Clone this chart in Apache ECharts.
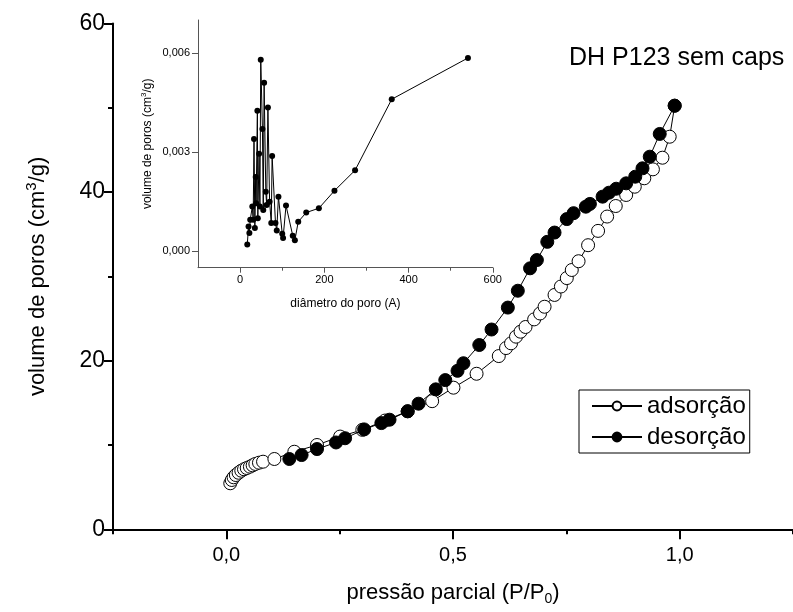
<!DOCTYPE html>
<html>
<head>
<meta charset="utf-8">
<script src="https://cdn.jsdelivr.net/npm/echarts@6/dist/echarts.min.js"></script>
<style>html,body{margin:0;padding:0;background:#fff}#c{width:793px;height:612px}</style>
</head>
<body>
<div id="c"></div>
<script>
// ---- main isotherm data ----
var adsP = [0.0087,0.012,0.016,0.021,0.027,0.033,0.039,0.045,0.052,0.058,0.064,0.072,0.081,0.106,0.15,0.2,0.251,0.30,0.35,0.40,0.454,0.501,0.552,0.601,0.617,0.628,0.639,0.649,0.66,0.679,0.692,0.702,0.724,0.738,0.751,0.762,0.777,0.798,0.82,0.84,0.859,0.882,0.901,0.922,0.941,0.962,0.978,0.989];
var adsV = [5.46,5.85,6.17,6.44,6.71,6.95,7.12,7.27,7.43,7.59,7.75,7.9,8.02,8.34,9.2,10.0,11.0,11.8,12.9,14.0,15.2,16.8,18.45,20.55,21.5,22.06,22.85,23.44,24.0,24.9,25.6,26.4,27.8,28.8,29.8,30.76,31.8,33.7,35.4,37.1,38.35,39.66,40.64,41.64,42.7,44.08,46.57,50.25];
var desP = [0.989,0.956,0.934,0.918,0.902,0.882,0.86,0.844,0.83,0.802,0.793,0.766,0.751,0.724,0.708,0.685,0.67,0.643,0.621,0.585,0.558,0.523,0.51,0.483,0.462,0.424,0.40,0.36,0.342,0.304,0.262,0.242,0.2,0.166,0.139];
var desV = [50.25,46.9,44.2,42.82,41.83,41.04,40.4,39.93,39.46,38.6,38.27,37.5,36.8,35.2,34.1,31.94,30.96,28.3,26.3,23.7,21.86,19.7,18.8,17.7,16.6,14.9,14.0,13.0,12.6,11.85,10.8,10.3,9.52,8.81,8.34];
// ---- inset pore distribution data ----
var poreD = [17,20,22,24,29,31,33,35,37,38,41,42,45,47,49,53,55,57,61,63,66,70,74,76,84,87,91,100,102,109,125,130,138,157,187,224,273,360,541];
var poreV = [0.0002,0.00075,0.00055,0.00095,0.00135,0.00095,0.0034,0.0007,0.00225,0.00145,0.00425,0.001,0.00295,0.00135,0.0058,0.0037,0.00125,0.0051,0.0018,0.0014,0.00435,0.0015,0.00085,0.00288,0.00085,0.00063,0.00165,0.00053,0.0004,0.00138,0.00047,0.00033,0.00089,0.00117,0.0013,0.00183,0.00245,0.0046,0.00585];
// ---- ticks ----
var mainXMajor = [0,0.5,1.0];
var mainXMinor = [-0.25,0.25,0.75,1.25];
var insetXMajor = [0,200,400,600];
var insetXMinor = [100,300,500];
var insetYMajor = [0,0.003,0.006];

function zip(a,b){var r=[];for(var i=0;i<a.length;i++)r.push([a[i],b[i]]);return r;}
var FF = "'Liberation Sans', Arial, sans-serif";
var chart = echarts.init(document.getElementById('c'), null, {renderer:'canvas'});
var option = {
  animation:false,
  backgroundColor:'#fff',
  textStyle:{fontFamily:FF,color:'#000'},
  title:{text:'DH P123 sem caps',left:569,top:46,padding:0,textStyle:{fontFamily:FF,fontWeight:'normal',fontSize:25,color:'#000'}},
  legend:{
    data:['adsorção','desorção'],orient:'vertical',left:579,top:390,
    backgroundColor:'#fff',borderColor:'#000',borderWidth:1,borderRadius:0,
    padding:[3,4,3,12],itemGap:5,itemWidth:50,itemHeight:11,
    textStyle:{fontFamily:FF,fontSize:24,color:'#000',lineHeight:26}
  },
  grid:[
    {left:113,top:23.5,right:-10,bottom:82.7,containLabel:false},
    {left:198,top:20,right:300.2,bottom:344.3,containLabel:false}
  ],
  xAxis:[
    {type:'value',gridIndex:0,min:-0.25,max:1.25,position:'bottom',
     axisLine:{show:true,onZero:false,lineStyle:{color:'#000',width:2}},
     axisTick:{show:true,customValues:mainXMajor,length:10,lineStyle:{color:'#000',width:2}},
     axisLabel:{show:true,customValues:mainXMajor,margin:16,fontSize:20,fontFamily:FF,color:'#000',formatter:function(v){return v.toFixed(1).replace('.',',');}},
     splitLine:{show:false},
     name:'{a|pressão parcial (P/P}{sub|0}{a|)}',nameLocation:'middle',nameGap:51,
     nameTextStyle:{rich:{a:{fontSize:22,fontFamily:FF,color:'#000'},sub:{fontSize:14,fontFamily:FF,color:'#000',padding:[12,0,0,0]}}}
    },
    {type:'value',gridIndex:0,min:-0.25,max:1.25,position:'bottom',
     axisLine:{show:false,onZero:false},axisLabel:{show:false},splitLine:{show:false},
     axisTick:{show:true,customValues:mainXMinor,length:5,lineStyle:{color:'#000',width:2}}
    },
    {type:'value',gridIndex:1,min:-100,max:600,position:'bottom',
     axisLine:{show:true,onZero:false,lineStyle:{color:'#555',width:1}},
     axisTick:{show:true,customValues:insetXMajor,length:5,lineStyle:{color:'#555',width:1}},
     axisLabel:{show:true,customValues:insetXMajor,margin:7,fontSize:11,fontFamily:FF,color:'#000'},
     splitLine:{show:false},
     name:'diâmetro do poro (A)',nameLocation:'middle',nameGap:30,
     nameTextStyle:{fontSize:12,fontFamily:FF,color:'#000'}
    },
    {type:'value',gridIndex:1,min:-100,max:600,position:'bottom',
     axisLine:{show:false,onZero:false},axisLabel:{show:false},splitLine:{show:false},
     axisTick:{show:true,customValues:insetXMinor,length:3,lineStyle:{color:'#555',width:1}}
    }
  ],
  yAxis:[
    {type:'value',gridIndex:0,min:0,max:60,interval:20,position:'left',
     axisLine:{show:true,onZero:false,lineStyle:{color:'#000',width:2}},
     axisTick:{show:true,length:9,lineStyle:{color:'#000',width:2}},
     minorTick:{show:true,splitNumber:2,length:5,lineStyle:{color:'#000',width:2}},
     axisLabel:{show:true,margin:8,fontSize:23,fontFamily:FF,color:'#000'},
     splitLine:{show:false},minorSplitLine:{show:false},
     name:'{a|volume de poros (cm}{sup|3}{a|/g)}',nameLocation:'middle',nameGap:62,
     nameTextStyle:{rich:{a:{fontSize:22,fontFamily:FF,color:'#000'},sup:{fontSize:15,fontFamily:FF,color:'#000',padding:[0,0,12,0]}}}
    },
    {type:'value',gridIndex:1,min:-0.0005,max:0.007,position:'left',
     axisLine:{show:true,onZero:false,lineStyle:{color:'#555',width:1}},
     axisTick:{show:true,customValues:insetYMajor,length:6,lineStyle:{color:'#555',width:1}},
     axisLabel:{show:true,customValues:insetYMajor,margin:8,fontSize:11,fontFamily:FF,color:'#000',formatter:function(v){return v.toFixed(3).replace('.',',');}},
     splitLine:{show:false},
     name:'{a|volume de poros (cm}{sup|3}{a|/g)}',nameLocation:'middle',nameGap:43,
     nameTextStyle:{rich:{a:{fontSize:12,fontFamily:FF,color:'#000'},sup:{fontSize:8,fontFamily:FF,color:'#000',padding:[0,0,7,0]}}}
    }
  ],
  series:[
    {name:'adsorção',type:'line',xAxisIndex:0,yAxisIndex:0,data:zip(adsP,adsV),
     symbol:'circle',symbolSize:13,showAllSymbol:true,
     itemStyle:{color:'#fff',borderColor:'#000',borderWidth:1},
     lineStyle:{color:'#000',width:1},z:3},
    {name:'desorção',type:'line',xAxisIndex:0,yAxisIndex:0,data:zip(desP,desV),
     symbol:'circle',symbolSize:13,showAllSymbol:true,
     itemStyle:{color:'#000',borderColor:'#000',borderWidth:1},
     lineStyle:{color:'#000',width:1},z:4},
    {name:'poros',type:'line',xAxisIndex:2,yAxisIndex:1,data:zip(poreD,poreV),
     symbol:'circle',symbolSize:6,showAllSymbol:true,
     itemStyle:{color:'#000'},lineStyle:{color:'#000',width:1},z:5}
  ]
};
chart.setOption(option);
</script>
</body>
</html>
